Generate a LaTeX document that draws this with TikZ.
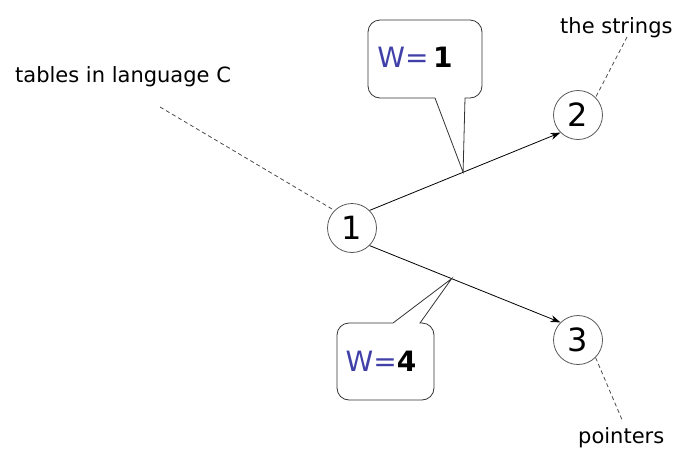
\documentclass[tikz,border=0pt]{standalone}
\usepackage{fontspec}
\setmainfont{DejaVu Sans}
\usepackage{xcolor}
\usetikzlibrary{arrows.meta,calc}
\definecolor{wblue}{RGB}{64,64,168}
\newcommand{\wlabel}[1]{\textcolor{wblue}{W=}\textbf{#1}}

\begin{document}
\begin{tikzpicture}[x=1pt,y=-1pt]
            \tikzset{
                vertex/.style={circle, draw=black!65, line width=0.8pt, minimum size=49pt, inner sep=0pt, font=\fontsize{32}{32}\selectfont},
                remark/.style={inner sep=0pt, font=\fontsize{21}{24}\selectfont},
                weight/.style={inner sep=0pt, font=\fontsize{28}{30}\selectfont},
                hint/.style={black!70, line width=0.8pt, dash pattern=on 4pt off 3pt},
                link/.style={line width=0.8pt, arrows=-{Stealth[length=10pt,width=7pt]}},
                bubble/.style={line width=0.8pt, black!80}
            }
            \useasboundingbox (0,0) rectangle (678,448);

            \node[vertex] (n1) at (352,228) {1};
            \node[vertex] (n2) at (578,115) {2};
            \node[vertex] (n3) at (578,340) {3};

            \draw[link] (n1.north east) -- (n2.south west);
            \draw[link] (n1.south east) -- (n3.north west);

            % notes and their dashed leaders
            \node[remark, anchor=base west] (tabnote) at (15,82) {tables in language C};
            \node[remark, anchor=base west] (strnote) at (560,33) {the strings};
            \node[remark, anchor=base west] (ptrnote) at (578,443) {pointers};
            \coordinate (tabtail) at (160,107);
            \coordinate (strtail) at (627,37);
            \coordinate (ptrtail) at (623,422);
            \draw[hint] (tabtail) -- (n1.north west);
            \draw[hint] (strtail) -- (n2.north east);
            \draw[hint] (n3.south east) -- (ptrtail);

            % weight callouts
            \coordinate (tip1) at ($(n1.north east)!0.49!(n2.south west)$);
            \coordinate (tip4) at ($(n1.south east)!0.43!(n3.north west)$);
            \draw[bubble, rounded corners=12pt] (425,20) -- (368,20) -- (368,98) [sharp corners] -- (435,98) -- (tip1) -- (465,98) [rounded corners=12pt] -- (482,98) -- (482,20) -- cycle;
            \draw[bubble, rounded corners=12pt] (385,400) -- (434,400) -- (434,323) [sharp corners] -- (420,323) -- (tip4) -- (393,323) [rounded corners=12pt] -- (337,323) -- (337,400) -- cycle;
            \node[weight] (w1) at (415,57) {\wlabel{\,1}};
            \node[weight] (w4) at (381,361) {\wlabel{4}};
        \end{tikzpicture}
\end{document}
